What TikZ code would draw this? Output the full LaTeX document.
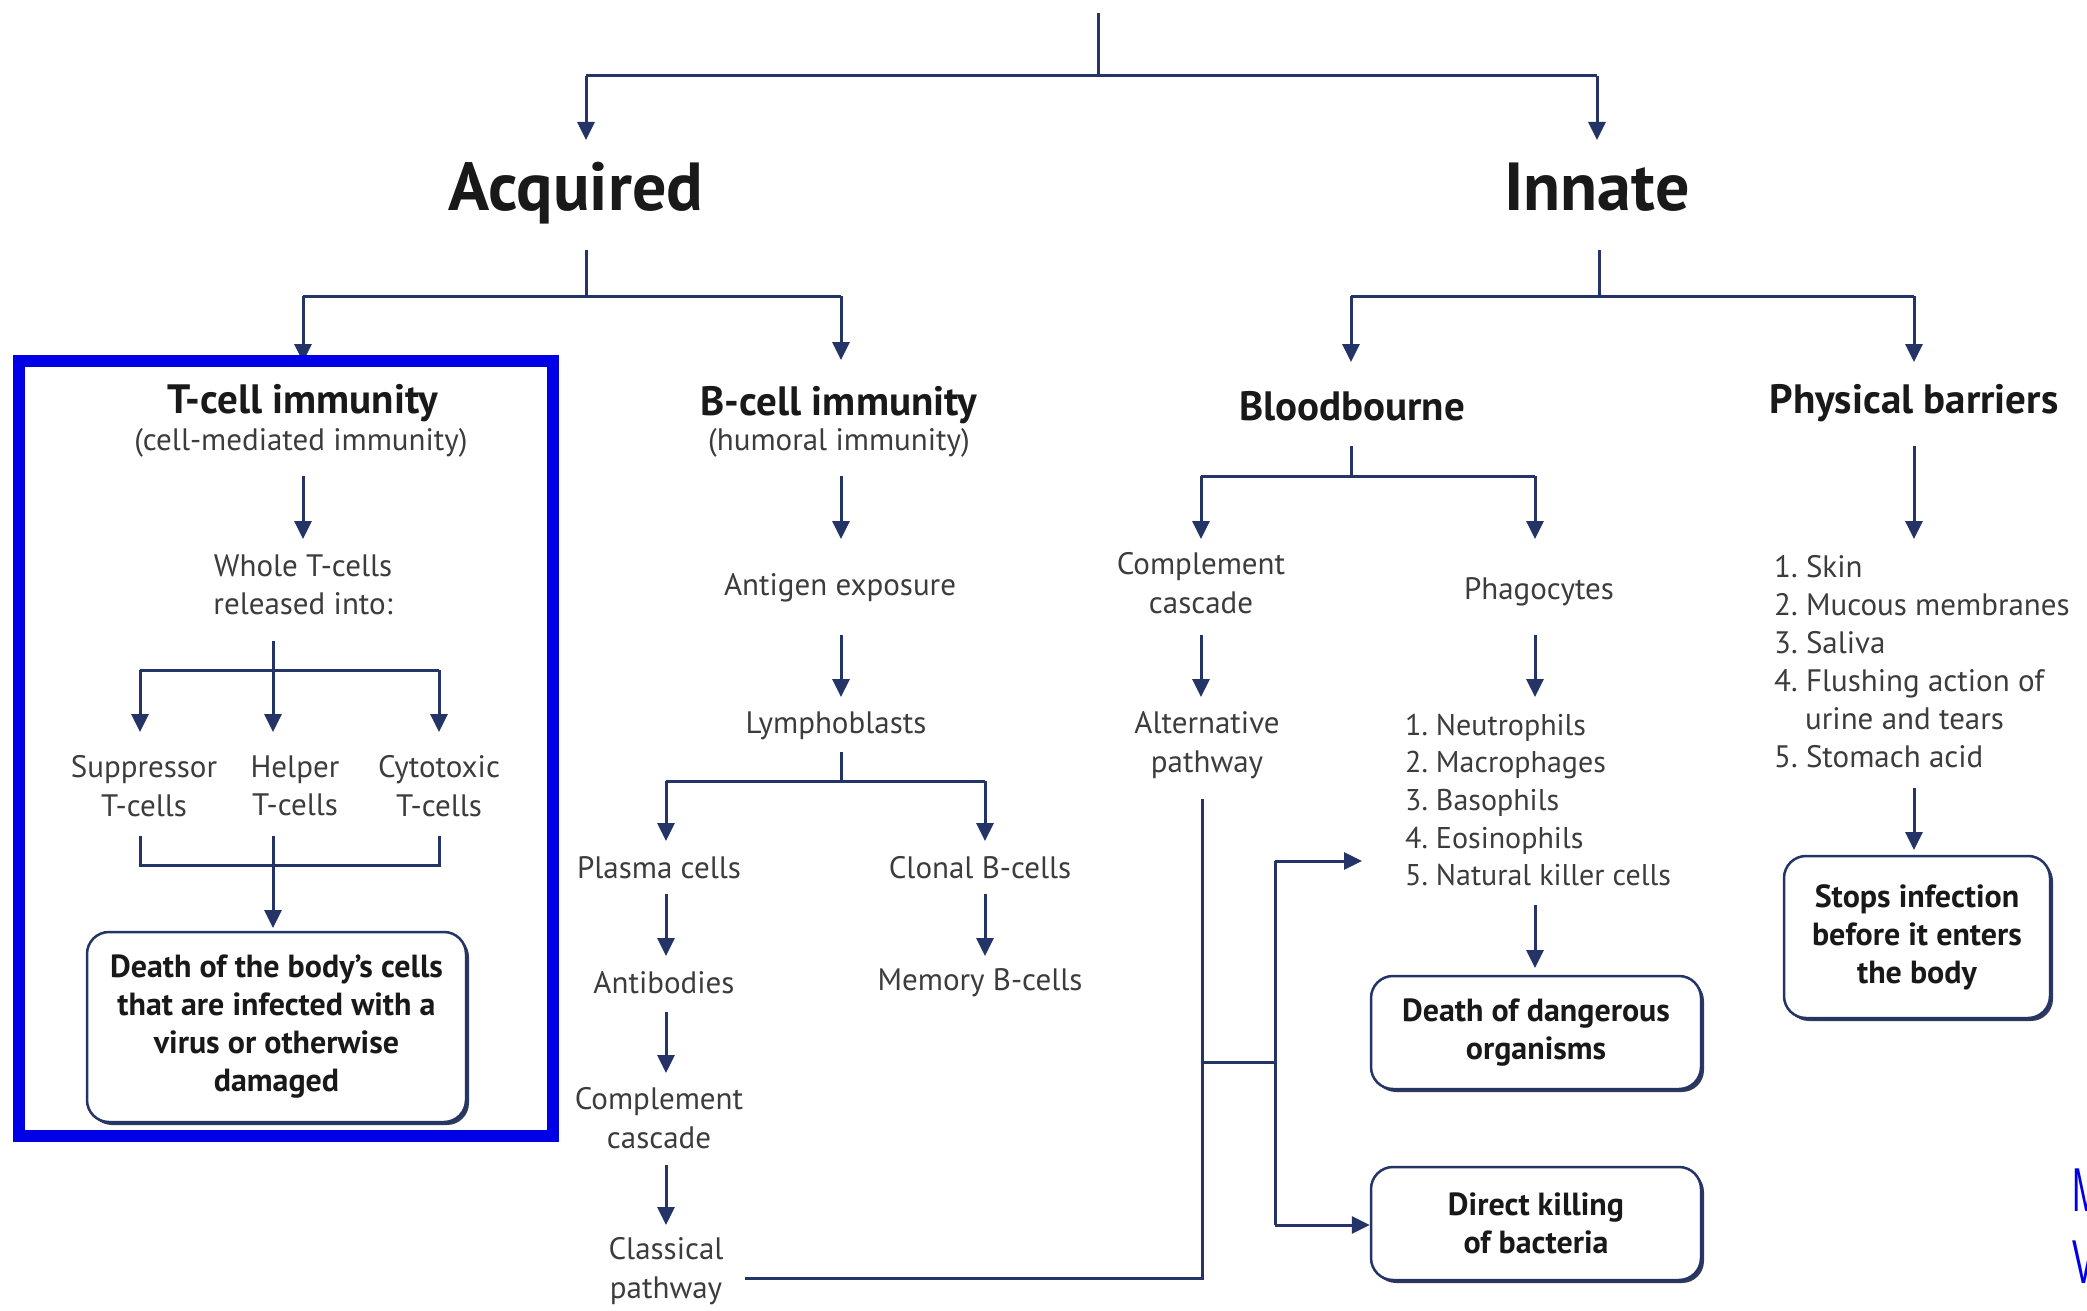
\documentclass[tikz,border=0pt]{standalone}
\usepackage{fontspec}
\setmainfont{PT Sans}
\newfontfamily\narrowfont{Liberation Sans}
\usetikzlibrary{arrows.meta,shadows}
\frenchspacing
\definecolor{navy}{RGB}{36,52,102}
\definecolor{ink}{RGB}{60,60,60}
\definecolor{inkb}{RGB}{25,25,25}
\definecolor{markblue}{RGB}{0,0,230}
\tikzset{
  ln/.style={draw=navy, line width=3pt},
  arr/.style={ln, -{Triangle[width=17pt,length=18pt]}},
  big/.style={font=\fontsize{68}{76}\selectfont\bfseries, text=inkb, inner sep=0pt, anchor=base},
  head/.style={font=\fontsize{41}{46}\selectfont\bfseries, text=inkb, inner sep=0pt},
  txt/.style={font=\fontsize{31}{38.5}\selectfont, text=ink, inner sep=0pt, align=center},
  lst/.style={txt, align=left, anchor=west},
  resbox/.style={draw=navy, line width=2.5pt, fill=white, rounded corners=22pt,
    font=\fontsize{32}{38}\selectfont\bfseries, text=inkb, align=center, inner sep=0pt,
    drop shadow={shadow xshift=3pt, shadow yshift=-3pt, fill=navy!70!black, opacity=0.9}},
  hiframe/.style={draw=markblue, line width=12pt},
  cutletter/.style={font=\narrowfont\fontsize{62}{70}\selectfont, text=markblue, inner sep=0pt, anchor=base west, xscale=0.55}
}
\begin{document}
\begin{tikzpicture}[x=1pt, y=-1pt]
\useasboundingbox (0,0) rectangle (2087,1311);
\fill[white] (0,0) rectangle (2087,1311);

% ---------- top split ----------
\coordinate (root) at (1098,13);
\coordinate (rootj) at (1098,76);
\node[big] (acq) at (576,210) {Acquired};
\node[big] (inn) at (1597,210) {Innate};
\draw[ln] (root) -- (rootj);
\draw[ln] (rootj) -- (rootj -| 586,0) coordinate (acqj);
\draw[ln] (rootj) -- (rootj -| 1597,0) coordinate (innj);
\draw[arr] (acqj) -- (586,140) coordinate (acqin);
\draw[arr] (innj) -- (1597,140) coordinate (innin);

% ---------- acquired split ----------
\coordinate (acqo) at (586,250);
\coordinate (acqs) at (586,296);
\coordinate (tj) at (303,296);
\coordinate (bj) at (841,296);
\draw[ln] (acqo) -- (acqs);
\draw[ln] (tj) -- (bj);
\draw[arr] (tj) -- (303,362) coordinate (tin);
\draw[arr] (bj) -- (841,360) coordinate (bin);

% ---------- innate split ----------
\coordinate (inno) at (1599,250);
\coordinate (inns) at (1599,296);
\coordinate (bbj) at (1351,296);
\coordinate (pbj) at (1914,296);
\draw[ln] (inno) -- (inns);
\draw[ln] (bbj) -- (pbj);
\draw[arr] (bbj) -- (1351,362) coordinate (bbin);
\draw[arr] (pbj) -- (1914,362) coordinate (pbin);

% ---------- T-cell immunity ----------
\node[head] (tcell) at (303,403) {T-cell immunity};
\node[txt] (tsub) at (301,443) {(cell-mediated immunity)};
\node[txt] (whole) at (303,585) {Whole T-cells\\released into:};
\draw[arr] (303,476) coordinate (ta) -- (303,539) coordinate (tb);
\coordinate (wj0) at (273,641);
\coordinate (wj) at (273,670);
\draw[ln] (wj0) -- (wj);
\draw[ln] (140,670) coordinate (wl) -- (439,670) coordinate (wr);
\draw[arr] (wl) -- (140,732);
\draw[arr] (wj) -- (273,732);
\draw[arr] (wr) -- (439,732);
\node[txt] (sup) at (144,786) {Suppressor\\T-cells};
\node[txt] (help) at (295,786) {Helper\\T-cells};
\node[txt] (cyto) at (439,786) {Cytotoxic\\T-cells};
\draw[ln] (140,836) coordinate (sb) -- (140,865) -- (439,865) -- (439,836) coordinate (cb);
\draw[arr] (273,836) coordinate (hb) -- (273,928) coordinate (deathin);
\node[resbox, minimum width=379pt, minimum height=190pt] (death) at (276.5,1027)
  {Death of the body’s cells\\that are infected with a\\virus or otherwise\\damaged};

% ---------- B-cell immunity ----------
\node[head] (bcell) at (839,405) {B-cell immunity};
\node[txt] (bsub) at (839,443) {(humoral immunity)};
\draw[arr] (841,476) -- (841,539);
\node[txt] (antigen) at (840,588) {Antigen exposure};
\draw[arr] (841,635) -- (841,697);
\node[txt] (lympho) at (836,726) {Lymphoblasts};
\draw[ln] (841,752) -- (841,781) coordinate (lj);
\draw[ln] (666,781) coordinate (lpl) -- (985,781) coordinate (lcl);
\draw[arr] (lpl) -- (666,841);
\draw[arr] (lcl) -- (985,841);
\node[txt] (plasma) at (659,868) {Plasma cells};
\node[txt] (clonal) at (980,868) {Clonal B-cells};
\draw[arr] (666,894) -- (666,956);
\node[txt] (antib) at (664,983) {Antibodies};
\draw[arr] (666,1012) -- (666,1073);
\node[txt] (compa) at (659,1118) {Complement\\cascade};
\draw[arr] (666,1165) -- (666,1225);
\node[txt] (classic) at (666,1271) {Classical\\pathway};
\draw[arr] (985,894) -- (985,956);
\node[txt] (memory) at (980,983) {Memory B-cells};

% ---------- Bloodbourne ----------
\node[head] (blood) at (1352,406) {Bloodbourne};
\draw[ln] (1351,446) -- (1351,476) coordinate (cj);
\draw[ln] (1201,476) coordinate (cl) -- (1535,476) coordinate (cr);
\draw[arr] (cl) -- (1201,539);
\draw[arr] (cr) -- (1535,539);
\node[txt] (compb) at (1201,583) {Complement\\cascade};
\node[txt] (phago) at (1539,592) {Phagocytes};
\draw[arr] (1201,635) -- (1201,697);
\node[txt] (alt) at (1207,745) {Alternative\\pathway};
\draw[arr] (1535,635) -- (1535,697);
\node[lst, font=\fontsize{30}{37.6}\selectfont] (cells) at (1405,800)
  {1. Neutrophils\\2. Macrophages\\3. Basophils\\4. Eosinophils\\5. Natural killer cells};
\draw[arr] (1535,905) -- (1535,968);
\node[resbox, minimum width=330pt, minimum height=113pt] (danger) at (1536,1032.5)
  {Death of dangerous\\organisms};
\node[resbox, minimum width=330pt, minimum height=113pt] (direct) at (1536,1223.5)
  {Direct killing\\of bacteria};

% pathways feeding the killing stage
\coordinate (pj) at (1202,1278);
\coordinate (aj) at (1202,799);
\coordinate (mj) at (1202,1062);
\coordinate (fj) at (1275,1062);
\draw[ln] (745,1278) -- (pj) -- (aj);
\draw[ln] (mj) -- (fj);
\draw[ln] (1275,861) coordinate (ft) -- (1275,1225) coordinate (fb);
\draw[arr] (ft) -- (1362,861);
\draw[arr] (fb) -- (direct.west |- fb);

% ---------- Physical barriers ----------
\node[head] (phys) at (1914,403) {Physical barriers};
\draw[arr] (1914,446) -- (1914,539);
\node[lst, font=\fontsize{31}{38}\selectfont] (barr) at (1774,662)
  {1. Skin\\2. Mucous membranes\\3. Saliva\\4. Flushing action of\\\hspace*{31pt}urine and tears\\5. Stomach acid};
\draw[arr] (1914,788) -- (1914,850);
\node[resbox, minimum width=266pt, minimum height=162pt] (stops) at (1917,937)
  {Stops infection\\before it enters\\the body};

% ---------- highlight frame ----------
\draw[hiframe] (19,361) rectangle (553,1136);

% ---------- lettering cut by the right edge ----------
\begin{scope}
\clip (0,0) rectangle (2087,1311);
\node[cutletter] (cutm) at (2072,1211) {M};
\node[cutletter] (cutv) at (2072,1283) {V};
\end{scope}
\end{tikzpicture}
\end{document}
